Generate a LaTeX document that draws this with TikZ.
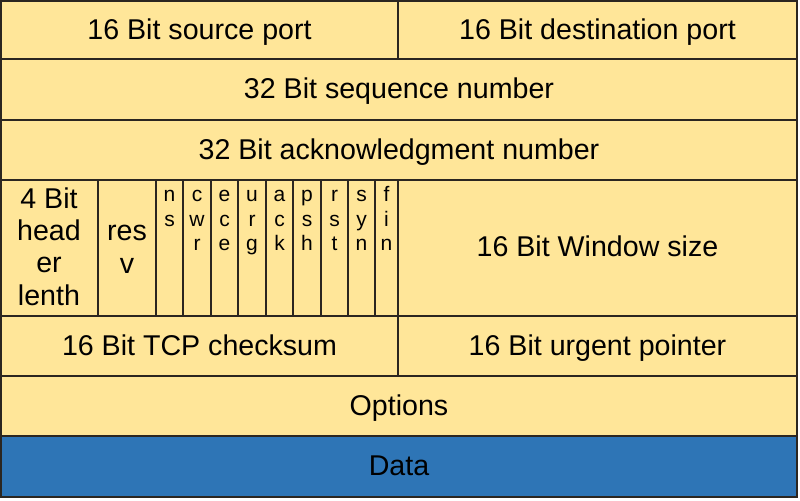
\documentclass[tikz,border=0pt]{standalone}
\usepackage{fontspec}
\setmainfont{Liberation Sans}
\usepackage{tikz}

\definecolor{hdrfill}{HTML}{FFE699}
\definecolor{datafill}{HTML}{2E75B6}
\definecolor{hdrline}{HTML}{2B2620}

\begin{document}
\begin{tikzpicture}[x=0.5pt,y=-0.5pt,
  field/.style={draw=hdrline,line width=1pt,fill=hdrfill},
  datafield/.style={draw=hdrline,line width=1pt,fill=datafill},
  lbl/.style={font=\fontsize{14.3}{16.15}\selectfont,align=center,anchor=base,inner sep=0pt},
  flag/.style={font=\fontsize{10.5}{12.25}\selectfont,align=center,anchor=base,inner sep=0pt}]

\useasboundingbox (0,0) rectangle (800,500);

% Row 1: source and destination port
\draw[field] (1,1) rectangle (398,59);
\node[lbl] (srcport) at (199.5,39) {16 Bit source port};
\draw[field] (398,1) rectangle (797,59);
\node[lbl] (dstport) at (597.5,39) {16 Bit destination port};

% Row 2: sequence number
\draw[field] (1,59) rectangle (797,120);
\node[lbl] (seqnum) at (399,98.5) {32 Bit sequence number};

% Row 3: acknowledgment number
\draw[field] (1,120) rectangle (797,180);
\node[lbl] (acknum) at (399,159) {32 Bit acknowledgment number};

% Row 4: header length, reserved, flags, window size
% (multi-line labels sit on the baseline of their last line)
\draw[field] (1,180) rectangle (97.5,316);
\node[lbl] (hdrlen) at (49,305) {4 Bit\\head\\er\\lenth};
\draw[field] (97.5,180) rectangle (156,316);
\node[lbl] (resv) at (127,273) {res\\v};
\foreach \name/\xa/\xb/\yb/\txt in {ns/156/183/226/{n\\s}, cwr/183/211/250.5/{c\\w\\r},
    ece/211/238/250.5/{e\\c\\e}, urg/238/266/250.5/{u\\r\\g}, ack/266/293/250.5/{a\\c\\k},
    psh/293/321/250.5/{p\\s\\h}, rst/321/348/250.5/{r\\s\\t}, syn/348/375/250.5/{s\\y\\n},
    fin/375/398/250.5/{f\\i\\n}}{
  \draw[field] (\xa,180) rectangle (\xb,316);
  \node[flag] (\name) at ({(\xa+\xb)/2},\yb) {\txt};
}
\draw[field] (398,180) rectangle (797,316);
\node[lbl] (winsize) at (597.5,256) {16 Bit Window size};

% Row 5: checksum and urgent pointer
\draw[field] (1,316) rectangle (398,376);
\node[lbl] (chksum) at (199.5,355) {16 Bit TCP checksum};
\draw[field] (398,316) rectangle (797,376);
\node[lbl] (urgptr) at (597.5,355) {16 Bit urgent pointer};

% Row 6: options
\draw[field] (1,376) rectangle (797,436);
\node[lbl] (options) at (399,415) {Options};

% Row 7: payload
\draw[datafield] (1,436) rectangle (797,497);
\node[lbl] (data) at (399,475.5) {Data};

\end{tikzpicture}
\end{document}
